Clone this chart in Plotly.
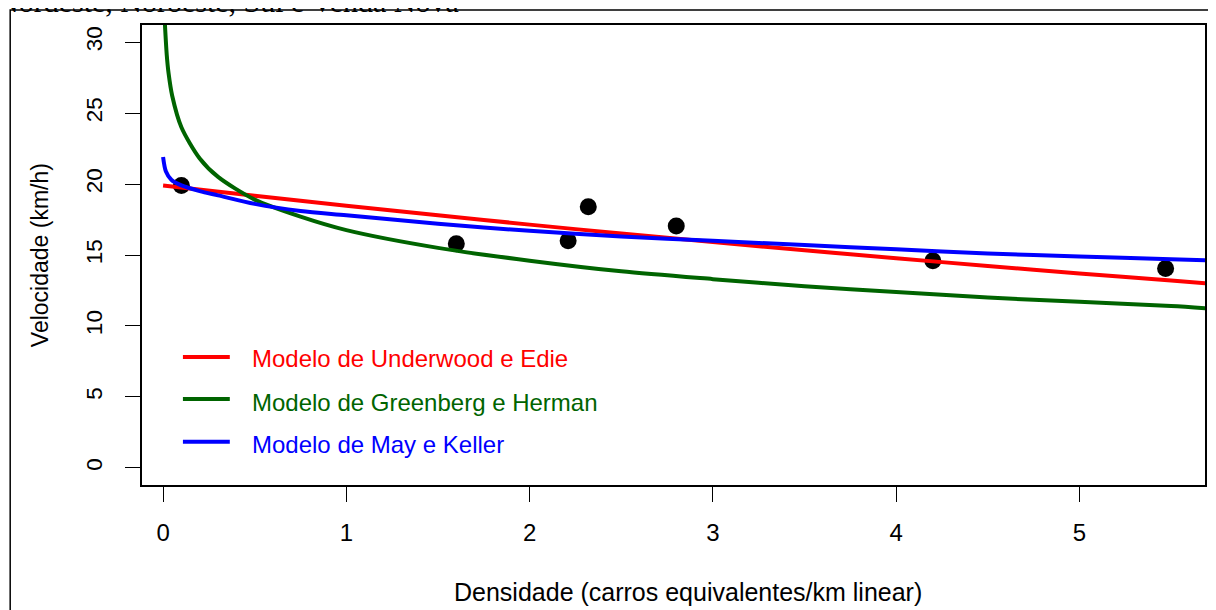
import plotly.graph_objects as go

# observações (densidade x velocidade)
dens_obs = [0.10, 1.60, 2.21, 2.32, 2.80, 4.20, 5.47]
vel_obs = [19.9, 15.8, 16.0, 18.4, 17.05, 14.6, 14.05]

# curvas dos modelos
x_under = [0.0, 0.5, 1.0, 1.5, 2.0, 2.5, 3.0, 3.5, 4.0, 4.5, 5.0, 5.5, 5.75]
v_under = [19.9, 19.17, 18.47, 17.8, 17.14, 16.51, 15.91, 15.33, 14.77, 14.23, 13.7, 13.2, 12.95]

x_green = [0.0103, 0.02, 0.03, 0.05, 0.1, 0.2, 0.3, 0.5, 0.75, 1.0, 1.5, 2.0,
           2.5, 3.0, 3.5, 4.0, 4.5, 5.0, 5.5, 5.75]
v_green = [31.2, 29.1, 27.8, 26.2, 24.0, 21.8, 20.5, 18.9, 17.7, 16.75, 15.5, 14.6,
           13.85, 13.3, 12.8, 12.4, 12.0, 11.7, 11.4, 11.2]

x_may = [0.0, 0.015, 0.045, 0.1, 0.2, 0.3, 0.5, 0.75, 1.0, 1.5, 2.0, 2.5, 3.0,
         3.5, 4.0, 4.5, 5.0, 5.5, 5.75]
v_may = [21.9, 20.9, 20.3, 19.9, 19.5, 19.2, 18.6, 18.1, 17.8, 17.2, 16.7, 16.3, 16.0,
         15.7, 15.4, 15.1, 14.9, 14.7, 14.6]

x_ticks = [0, 1, 2, 3, 4, 5]
y_ticks = [0, 5, 10, 15, 20, 25, 30]

modelos = [
    ("Modelo de Underwood e Edie", "#ff0000", x_under, v_under),
    ("Modelo de Greenberg e Herman", "#006400", x_green, v_green),
    ("Modelo de May e Keller", "#0000ff", x_may, v_may),
]

FONT = "Liberation Sans, Arial, sans-serif"

fig = go.Figure()

fig.add_trace(go.Scatter(
    x=dens_obs, y=vel_obs, mode="markers",
    marker=dict(color="black", size=17),
    showlegend=False,
))

for nome, cor, xs, ys in modelos:
    fig.add_trace(go.Scatter(
        x=xs, y=ys, mode="lines", name=nome,
        line=dict(color=cor, width=4, shape="spline", smoothing=0.8),
        showlegend=False,
    ))

# legenda desenhada à mão (estilo R)
leg_line_y = [0.278, 0.187, 0.094]
leg_text_y = [0.274, 0.180, 0.089]
shapes = []
annotations = []
for (nome, cor, _, _), ly, ty in zip(modelos, leg_line_y, leg_text_y):
    shapes.append(dict(type="line", xref="x domain", yref="y domain",
                       x0=0.0385, x1=0.0826, y0=ly, y1=ly,
                       line=dict(color=cor, width=4)))
    annotations.append(dict(xref="x domain", yref="y domain", x=0.1015, y=ty,
                            xanchor="left", yanchor="middle", showarrow=False,
                            text=nome, font=dict(family=FONT, size=24, color=cor)))

# moldura externa
shapes.append(dict(type="rect", xref="paper", yref="paper",
                   x0=-0.124, x1=1.1, y0=-0.4, y1=1.0326,
                   line=dict(color="black", width=1.5)))

annotations += [
    dict(xref="paper", yref="paper", x=-0.0958, y=0.5, textangle=-90,
         xanchor="center", yanchor="middle", showarrow=False,
         text="Velocidade (km/h)", font=dict(family=FONT, size=23, color="black")),
    dict(xref="paper", yref="paper", x=0.5136, y=-0.2326,
         xanchor="center", yanchor="middle", showarrow=False,
         text="Densidade (carros equivalentes/km linear)",
         font=dict(family=FONT, size=25, color="black")),
    dict(xref="paper", yref="paper", x=-0.1380, y=1.0100,
         xanchor="left", yanchor="bottom", showarrow=False,
         text="Nordeste, Noroeste, Sul e Venda Nova",
         font=dict(family="Liberation Serif, Times New Roman, serif", size=30, color="black")),
]

# a página tem 8 px de margem no body: a figura é reduzida e deslocada
fig.update_layout(
    width=1208, height=602,
    margin=dict(l=134, r=9, t=17, b=125),
    paper_bgcolor="white", plot_bgcolor="white",
    font=dict(family=FONT, size=23, color="black"),
    shapes=shapes, annotations=annotations,
)

fig.update_xaxes(
    range=[-0.115, 5.685], tickvals=x_ticks, showgrid=False, zeroline=False,
    showline=True, mirror=True, linecolor="black", linewidth=1.5,
    ticks="outside", ticklen=15, tickwidth=1.2, tickcolor="black",
    ticklabelstandoff=10, tickfont=dict(size=24),
)
fig.update_yaxes(
    range=[-1.2, 31.2], tickvals=y_ticks, showgrid=False, zeroline=False,
    showline=True, mirror=True, linecolor="black", linewidth=1.5,
    ticks="outside", ticklen=15, tickwidth=1.2, tickcolor="black",
    tickangle=-90, ticklabelstandoff=14, tickfont=dict(size=22.5),
)

fig.write_html("out.html")
